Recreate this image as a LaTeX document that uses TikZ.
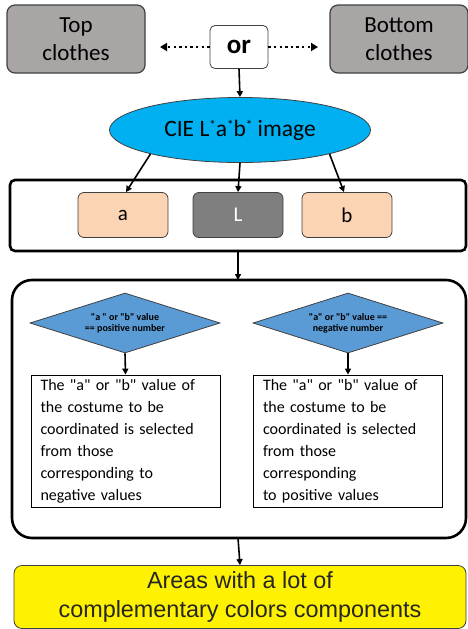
\documentclass[tikz,border=0pt]{standalone}
\usepackage{fontspec}
\setmainfont{Carlito}[Ligatures=TeXOff]
\newfontfamily\arialfont{Liberation Sans}
\usetikzlibrary{shapes.geometric,arrows.meta}

\definecolor{boxgray}{HTML}{A9A5A5}
\definecolor{labcyan}{HTML}{00B0F0}
\definecolor{peach}{HTML}{FBD4B4}
\definecolor{lgray}{HTML}{7F7F7F}
\definecolor{diablue}{HTML}{5B9BD5}
\definecolor{darkline}{HTML}{404040}

\newcommand{\starmark}{\raisebox{7pt}{\fontsize{13}{13}\selectfont *}}

\begin{document}
\begin{tikzpicture}[x=1pt,y=-1pt,
    garment/.style={draw=darkline,line width=1.2pt,fill=boxgray,rounded corners=8pt,
        minimum width=138pt,minimum height=68pt,inner sep=0pt,align=center,
        font=\fontsize{23}{28}\selectfont},
    channel/.style={draw=darkline,line width=0.8pt,rounded corners=6pt,
        minimum width=90pt,minimum height=45pt,inner sep=0pt,
        font=\fontsize{21}{24}\selectfont},
    frame/.style={draw=black,line width=2.6pt},
    decision/.style={diamond,draw=darkline,line width=0.8pt,fill=diablue,
        minimum width=190pt,minimum height=60pt,inner sep=0pt,shape aspect=3.2,
        align=center,font=\fontsize{10}{11}\selectfont\bfseries},
    result/.style={draw=black,line width=0.8pt,minimum width=189pt,minimum height=132pt,
        inner sep=0pt,text width=170pt,align=left,font=\fontsize{16}{22}\selectfont},
    flow/.style={line width=1.6pt,-{Triangle[length=6pt,width=6pt]}},
    choice/.style={line width=2.4pt,dash pattern=on 2.4pt off 3.2pt,
        -{Triangle[length=7pt,width=8pt]}}]

    \useasboundingbox (0,0) rectangle (467,629);

    % --- Garment selection ---
    \node[garment] (top) at (76,39) {Top\\clothes};
    \node[garment] (bottom) at (399,39) {Bottom\\clothes};
    \node[draw=darkline,line width=0.8pt,fill=white,rounded corners=5pt,
        minimum width=58pt,minimum height=43pt,inner sep=0pt,
        font=\fontsize{27}{28}\selectfont\bfseries] (or) at (239,47) {or};

    \coordinate (to top) at (160,47);
    \coordinate (to bottom) at (318,47);
    \draw[choice] (or.west) -- (to top);
    \draw[choice] (or.east) -- (to bottom);

    % --- Colour space conversion ---
    \node[ellipse,draw=darkline,line width=0.8pt,fill=labcyan,
        minimum width=261pt,minimum height=65pt,inner sep=0pt,
        font=\fontsize{23.5}{25}\selectfont] (lab) at (240,130)
        {CIE L\starmark a\starmark b\starmark{} image};
    \draw[flow] (or.south) -- (lab.north);

    % --- Channel split ---
    \draw[frame,rounded corners=5pt] (10,180) rectangle (466,251);
    \coordinate (split bot) at (238,251);
    \node[channel,fill=peach] (a) at (123,215) {a};
    \node[channel,fill=lgray,text=white] (L) at (238,215) {L};
    \node[channel,fill=peach] (b) at (347,215) {b};

    \draw[flow] (lab.195) -- ([xshift=3pt]a.north);
    \draw[flow] (lab.south) -- (L.north);
    \draw[flow] (lab.-15) -- ([xshift=-3pt]b.north);

    % --- Sign decision ---
    \draw[frame,rounded corners=20pt] (12,280) rectangle (466,538);
    \coordinate (dec top) at (238,280);
    \coordinate (dec bot) at (238,538);
    \draw[flow] (split bot) -- (dec top);

    \node[decision] (pos) at (125,323) {"a " or "b" value\\== positive number};
    \node[decision] (neg) at (348,323) {"a" or "b" value ==\\negative number};

    \node[result] (pick neg) at (125.5,441) {The "a" or "b" value of\\the costume to be\\coordinated is selected\\from those\\corresponding to\\negative values};
    \node[result] (pick pos) at (348,441) {The "a" or "b" value of\\the costume to be\\coordinated is selected\\from those\\corresponding\\to positive values};

    \draw[flow] (pos.south) -- (pick neg.north);
    \draw[flow] (neg.south) -- (pick pos.north);

    % --- Output ---
    \node[draw=darkline,line width=0.8pt,fill=yellow,rounded corners=8pt,
        minimum width=452pt,minimum height=63pt,inner sep=0pt,align=center,
        text=black!85,font=\arialfont\fontsize{23.4}{29}\selectfont] (areas) at (240,597)
        {Areas with a lot of\\complementary colors components};
    \draw[flow] (dec bot) -- (areas.north);

\end{tikzpicture}
\end{document}
